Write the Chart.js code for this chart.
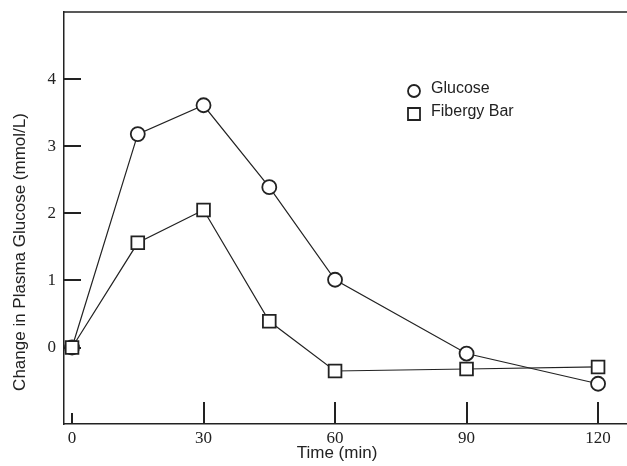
<!DOCTYPE html>
<html>
<head>
<meta charset="utf-8">
<script src="https://cdn.jsdelivr.net/npm/chart.js@4.4.0/dist/chart.umd.min.js"></script>
<style>
  html, body { margin: 0; padding: 0; background: #fff; overflow: hidden; }
  canvas { display: block; }
</style>
</head>
<body>
<canvas id="plasmaChart" width="627" height="466"></canvas>
<script>
// Time points (min)
const timePoints = [0, 15, 30, 45, 60, 90, 120];
// Change in plasma glucose (mmol/L)
const glucoseValues = [0, 3.18, 3.61, 2.39, 1.01, -0.09, -0.54];
const fibergyValues = [0, 1.56, 2.05, 0.39, -0.35, -0.32, -0.29];
const seriesNames = ["Glucose", "Fibergy Bar"];
const xTickValues = [0, 30, 60, 90, 120];
const yTickValues = [0, 1, 2, 3, 4];
const xTitle = "Time (min)";
const yTitle = "Change in Plasma Glucose (mmol/L)";

const ink = "#222";
const sansFont = '"Liberation Sans", Arial, sans-serif';
const serifFont = '"Liberation Serif", "Times New Roman", serif';

const toPoints = (vals) => vals.map((v, i) => ({ x: timePoints[i], y: v }));

// draws the inward ticks, top frame line, axis titles and the inset legend
const framePlugin = {
    id: "frame",
    beforeDatasetsDraw(chart) {
        const { ctx, chartArea: a, scales } = chart;
        ctx.save();
        ctx.strokeStyle = ink;
        ctx.lineWidth = 1.5;
        // top line
        ctx.beginPath();
        ctx.moveTo(a.left, a.top);
        ctx.lineTo(a.right, a.top);
        ctx.stroke();
        ctx.lineWidth = 2;
        // y ticks pointing inward
        yTickValues.forEach((v) => {
            const py = Math.round(scales.y.getPixelForValue(v));
            ctx.beginPath();
            ctx.moveTo(a.left, py);
            ctx.lineTo(a.left + 17, py);
            ctx.stroke();
        });
        // x ticks pointing up, the first one shorter
        xTickValues.forEach((v, i) => {
            const px = Math.round(scales.x.getPixelForValue(v));
            const len = i === 0 ? 11 : 22;
            ctx.beginPath();
            ctx.moveTo(px, a.bottom);
            ctx.lineTo(px, a.bottom - len);
            ctx.stroke();
        });
        ctx.restore();
    },
    afterDraw(chart) {
        const { ctx } = chart;
        ctx.save();
        ctx.fillStyle = ink;
        ctx.font = "17px " + sansFont;
        ctx.textAlign = "center";
        ctx.textBaseline = "middle";
        ctx.fillText(xTitle, 337, 453);
        ctx.translate(20, 252);
        ctx.rotate(-Math.PI / 2);
        ctx.fillText(yTitle, 0, 0);
        ctx.restore();

        // legend
        ctx.save();
        ctx.font = "16px " + sansFont;
        ctx.textAlign = "left";
        ctx.textBaseline = "middle";
        chart.data.datasets.forEach((ds, i) => {
            const ly = 91 + i * 23;
            ctx.fillStyle = "#fff";
            ctx.strokeStyle = ink;
            ctx.lineWidth = 1.8;
            ctx.beginPath();
            if (ds.pointStyle === "rect") {
                ctx.rect(408, ly - 6, 12, 12);
            } else {
                ctx.arc(414, ly, 6, 0, Math.PI * 2);
            }
            ctx.fill();
            ctx.stroke();
            ctx.fillStyle = ink;
            ctx.fillText(ds.label, 431, ly - 2);
        });
        ctx.restore();
    }
};

new Chart(document.getElementById("plasmaChart"), {
    type: "line",
    data: {
        datasets: [
            {
                label: seriesNames[0],
                data: toPoints(glucoseValues),
                borderColor: ink,
                borderWidth: 1.2,
                pointStyle: "circle",
                pointRadius: 7,
                pointBorderWidth: 1.8,
                pointBackgroundColor: "#fff",
                pointBorderColor: ink,
                order: 2
            },
            {
                label: seriesNames[1],
                data: toPoints(fibergyValues),
                borderColor: ink,
                borderWidth: 1.2,
                pointStyle: "rect",
                pointRadius: 9,
                pointBorderWidth: 1.8,
                pointBackgroundColor: "#fff",
                pointBorderColor: ink,
                order: 1
            }
        ]
    },
    options: {
        responsive: false,
        animation: false,
        devicePixelRatio: 1,
        layout: { autoPadding: false, padding: { top: 12, left: 0, right: 0, bottom: 0 } },
        plugins: {
            legend: { display: false },
            tooltip: { enabled: false }
        },
        scales: {
            x: {
                type: "linear",
                min: -1.83,
                max: 126.6,
                afterBuildTicks: (scale) => {
                    scale.ticks = xTickValues.map((v) => ({ value: v }));
                },
                afterFit: (scale) => {
                    scale.height = 42;
                    scale.paddingLeft = 0;
                    scale.paddingRight = 0;
                },
                grid: { display: false, drawTicks: false },
                border: { color: ink, width: 1.5 },
                ticks: {
                    color: ink,
                    padding: 4,
                    maxRotation: 0,
                    font: { family: serifFont, size: 17 }
                }
            },
            y: {
                min: -1.14,
                max: 5,
                afterBuildTicks: (scale) => {
                    scale.ticks = yTickValues.map((v) => ({ value: v }));
                },
                afterFit: (scale) => {
                    scale.width = 64;
                    scale.paddingTop = 0;
                    scale.paddingBottom = 0;
                },
                grid: { display: false, drawTicks: false },
                border: { color: ink, width: 1.5 },
                ticks: {
                    color: ink,
                    padding: 8,
                    font: { family: serifFont, size: 17 }
                }
            }
        }
    },
    plugins: [framePlugin]
});
</script>
</body>
</html>
